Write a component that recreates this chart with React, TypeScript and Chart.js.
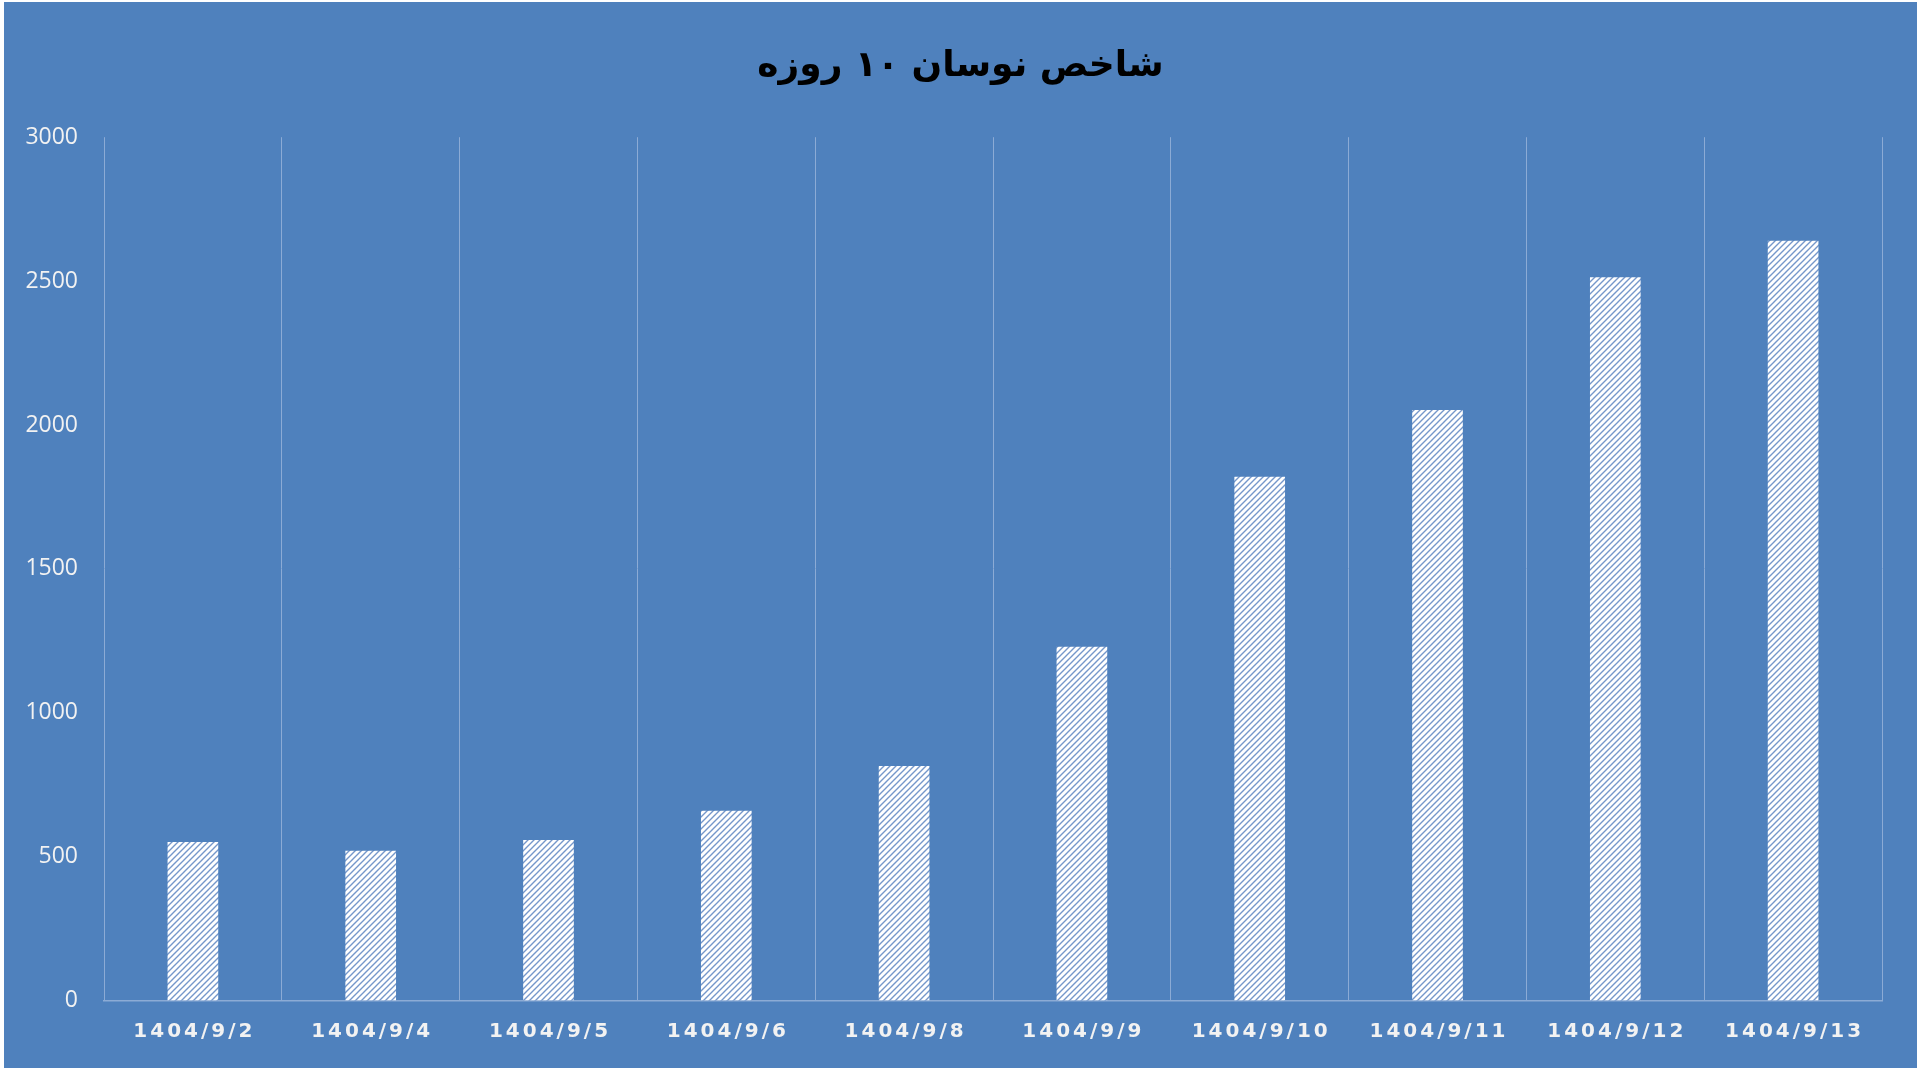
import React, { useEffect, useRef } from 'react';
import Chart from 'chart.js/auto';

// Chart data
const chartTitle = 'شاخص نوسان ۱۰ روزه';
const dateLabels = [
  '1404/9/2',
  '1404/9/4',
  '1404/9/5',
  '1404/9/6',
  '1404/9/8',
  '1404/9/9',
  '1404/9/10',
  '1404/9/11',
  '1404/9/12',
  '1404/9/13',
];
const indexValues = [551, 520, 558, 659, 815, 1229, 1820, 2052, 2513, 2640];
const yTicks = [0, 500, 1000, 1500, 2000, 2500, 3000];

const BG = '#4F81BD';
const GRID = '#8CABD5';
const LABEL = '#F2F2F2';

// Draw the x tick labels ourselves so they can get letter spacing
const xLabelPlugin = {
  id: 'spacedXLabels',
  afterDraw(chart: any) {
    const { ctx, chartArea } = chart;
    const xScale = chart.scales.x;
    ctx.save();
    ctx.font = 'bold 20px "DejaVu Sans"';
    ctx.fillStyle = LABEL;
    ctx.textAlign = 'center';
    ctx.textBaseline = 'middle';
    ctx.letterSpacing = '3px';
    xScale.ticks.forEach((_: any, i: number) => {
      ctx.fillText(dateLabels[i], xScale.getPixelForTick(i) + 1.5, chartArea.bottom + 31);
    });
    ctx.restore();
  },
};

const makeHatch = (ctx: CanvasRenderingContext2D) => {
  const tile = document.createElement('canvas');
  tile.width = 6;
  tile.height = 6;
  const t = tile.getContext('2d')!;
  t.fillStyle = '#FFFFFF';
  t.fillRect(0, 0, 6, 6);
  t.strokeStyle = '#7597CA';
  t.lineWidth = 1.4;
  t.beginPath();
  t.moveTo(-1, 7);
  t.lineTo(7, -1);
  t.moveTo(-4, 4);
  t.lineTo(4, -4);
  t.moveTo(2, 10);
  t.lineTo(10, 2);
  t.stroke();
  return ctx.createPattern(tile, 'repeat');
};

const VolatilityChart: React.FC = () => {
  const chartRef = useRef<HTMLCanvasElement>(null);
  const chartInstance = useRef<Chart | null>(null);

  useEffect(() => {
    if (!chartRef.current) return;
    const ctx = chartRef.current.getContext('2d');
    if (!ctx) return;

    if (chartInstance.current) {
      chartInstance.current.destroy();
    }

    chartInstance.current = new Chart(ctx, {
      type: 'bar',
      data: {
        labels: dateLabels,
        datasets: [
          {
            data: indexValues,
            backgroundColor: makeHatch(ctx) as any,
            borderWidth: 0,
            barPercentage: 0.285,
            categoryPercentage: 1,
          },
        ],
      },
      plugins: [xLabelPlugin],
      options: {
        responsive: true,
        maintainAspectRatio: false,
        animation: false,
        layout: { padding: 0 },
        plugins: {
          legend: { display: false },
          tooltip: { enabled: false },
          title: {
            display: true,
            text: chartTitle,
            color: '#000000',
            font: { family: '"DejaVu Sans"', size: 36, weight: 'bold' },
            padding: { top: 43, bottom: 49 },
          },
        },
        scales: {
          x: {
            afterFit: (scale: any) => {
              scale.height = 67.5;
            },
            grid: {
              display: true,
              offset: true,
              color: GRID,
              lineWidth: 1,
              drawTicks: false,
            },
            border: { display: true, color: GRID, width: 1.5 },
            ticks: { color: 'rgba(0,0,0,0)', font: { size: 20 } },
          },
          y: {
            min: 0,
            max: 3000,
            afterFit: (scale: any) => {
              scale.width = 100;
            },
            afterBuildTicks: (scale: any) => {
              scale.ticks = yTicks.map((v) => ({ value: v }));
            },
            grid: { display: false, drawTicks: false },
            border: { display: false },
            ticks: {
              color: LABEL,
              padding: 26,
              font: { family: '"Open Sans"', size: 23 },
              callback: (value: any) => String(value),
            },
          },
          // empty right-hand axis, only keeps a margin so the title stays centred
          yRight: {
            position: 'right',
            min: 0,
            max: 3000,
            afterFit: (scale: any) => {
              scale.width = 35;
            },
            grid: { display: false, drawTicks: false },
            border: { display: false },
            ticks: { display: false },
          },
        },
      },
    });

    return () => {
      if (chartInstance.current) {
        chartInstance.current.destroy();
        chartInstance.current = null;
      }
    };
  }, []);

  return (
    <div
      style={{
        position: 'fixed',
        left: 0,
        top: 0,
        width: 1920,
        height: 1068,
        background: '#FFFFFF',
      }}
    >
      <div
        style={{
          position: 'absolute',
          left: 4,
          top: 2,
          width: 1913,
          height: 1066,
          background: BG,
        }}
      >
        <canvas ref={chartRef} />
      </div>
    </div>
  );
};

export default function App() {
  return <VolatilityChart />;
}
